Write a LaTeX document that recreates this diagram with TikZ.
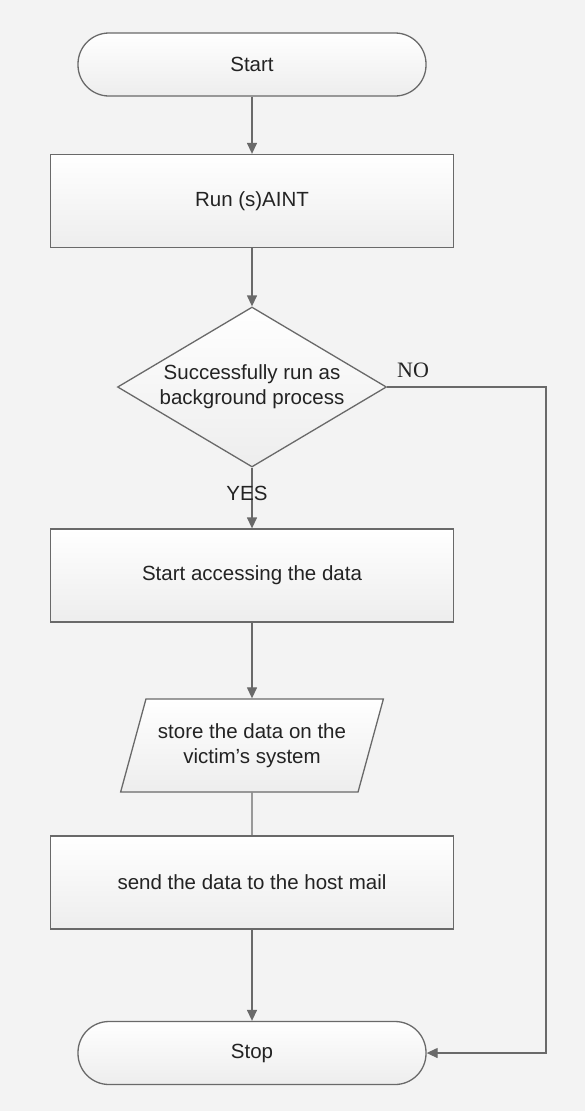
\documentclass[tikz,border=0pt]{standalone}
\usepackage{fontspec}
\setmainfont{Liberation Sans}
\newfontfamily\labelserif{Liberation Serif}
\usetikzlibrary{arrows.meta,shapes.geometric}
\definecolor{fcline}{RGB}{105,105,105}
\definecolor{fcback}{RGB}{243,243,243}
\definecolor{fctext}{RGB}{35,35,35}

\begin{document}
\begin{tikzpicture}[x=1pt,y=-1pt,font=\fontsize{20.5}{25}\selectfont,
    base/.style={draw=fcline,line width=1.3pt,top color=white,bottom color=black!7,text=fctext,align=center,inner sep=0pt},
    term/.style={base,rounded corners=31pt,minimum width=348pt,minimum height=63pt},
    proc/.style={base,minimum width=403pt,minimum height=93pt},
    flow/.style={draw=fcline,line width=1.3pt,-{Triangle[length=11pt,width=10pt]}}]
    \useasboundingbox (0,0) rectangle (585,1111);
    \fill[fcback] (0,0) rectangle (585,1111);
    \node[term] (start) at (252,64.5) {Start};
    \node[proc] (run) at (252,201) {Run (s)AINT};
    \node[base,diamond,aspect=1.68,minimum width=269pt,minimum height=160pt] (check) at (252,387) {Successfully run as\\background process};
    \node[proc] (access) at (252,575.5) {Start accessing the data};
    \node[base,trapezium,trapezium left angle=63,trapezium right angle=117,trapezium stretches=true,minimum width=263pt,minimum height=93pt] (store) at (252,745.5) {store the data on the\\victim's system};
    \node[proc] (send) at (252,882.5) {send the data to the host mail};
    \node[term] (stop) at (252,1053) {Stop};
    \coordinate (corner) at (546,387);
    \draw[flow] (start)--(run);
    \draw[flow] (run)--(check);
    \draw[flow] (check)--(access);
    \draw[flow] (access)--(store);
    \draw[draw=fcline,line width=1.3pt] (store)--(send);
    \draw[flow] (send)--(stop);
    \draw[flow] (check.east)--(corner)|-(stop.east);
    \node[text=fctext] (yes) at (247,493) {YES};
    \node[text=fctext,font=\labelserif\fontsize{22}{26}\selectfont] (no) at (413,370) {NO};
  \end{tikzpicture}
\end{document}
